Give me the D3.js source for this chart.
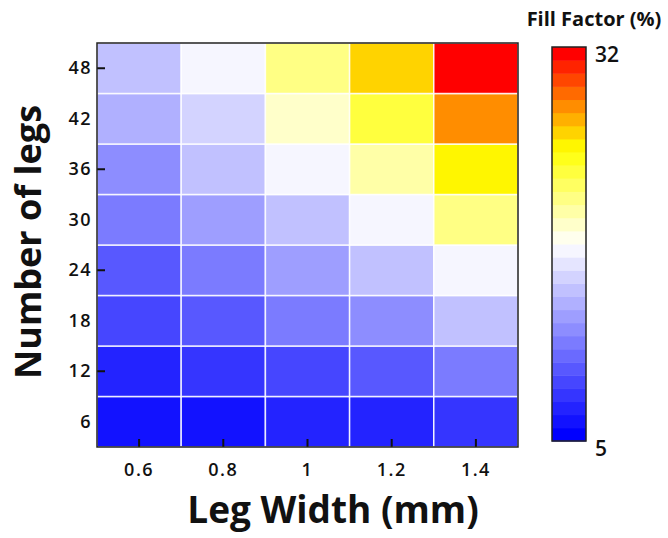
<!DOCTYPE html>
<html>
<head>
<meta charset="utf-8">
<script src="https://cdn.jsdelivr.net/npm/d3@7"></script>
<style>
  body { margin: 0; background: #fff; }
  svg text { font-family: "Open Sans", sans-serif; fill: #111; }
</style>
</head>
<body>
<svg id="chart" width="668" height="538"></svg>
<script>
// leg widths (mm) on x, number of legs on y
const legWidths = ["0.6", "0.8", "1", "1.2", "1.4"];
const legCounts = ["6", "12", "18", "24", "30", "36", "42", "48"];

// fill factor (%) per row, one value per leg width
const ff6  = [6.3, 6.3, 7.2, 7.2, 8.1];
const ff12 = [7.2, 8.1, 9.0, 9.9, 11.8];
const ff18 = [9.0, 9.9, 11.8, 12.6, 15.3];
const ff24 = [9.9, 11.8, 13.5, 15.3, 18.0];
const ff30 = [11.8, 13.5, 15.3, 18.0, 21.6];
const ff36 = [12.6, 15.3, 18.0, 20.7, 25.2];
const ff42 = [14.4, 16.2, 19.9, 23.4, 27.9];
const ff48 = [15.3, 18.0, 21.6, 26.1, 31.6];
const rows = [ff6, ff12, ff18, ff24, ff30, ff36, ff42, ff48];

const cbTicks = [5, 32];
const yTickMarks = ["12", "24", "36", "48"];

const cells = [];
rows.forEach((r, i) => r.forEach((v, j) => cells.push({n: legCounts[i], w: legWidths[j], v: v})));

const svg = d3.select("#chart");
const pL = 97, pR = 518, pT = 43, pB = 447;

const x = d3.scaleBand().domain(legWidths).range([pL, pR]);
const y = d3.scaleBand().domain(legCounts).range([pB, pT]);

// 30 step colormap: blue -> white (middle) -> yellow -> red
const interp = d3.scaleLinear()
    .domain([0, 0.5, 0.75, 1])
    .range(["#0000ff", "#ffffff", "#ffff00", "#ff0000"])
    .interpolate(d3.interpolateRgb);
const palette = d3.quantize(interp, 30);
const color = d3.scaleQuantize().domain([5, 32]).range(palette);

svg.selectAll("rect.cell")
    .data(cells)
    .enter().append("rect")
    .attr("class", "cell")
    .attr("x", d => x(d.w))
    .attr("y", d => y(d.n))
    .attr("width", x.bandwidth())
    .attr("height", y.bandwidth())
    .attr("fill", d => color(d.v))
    .attr("stroke", "#fff")
    .attr("stroke-opacity", 0.85)
    .attr("stroke-width", 1.5);

// tick labels (all rows / columns)
const yAxis = svg.append("g").attr("transform", `translate(${pL},0)`)
    .call(d3.axisLeft(y).tickSize(0).tickPadding(5));
const xAxis = svg.append("g").attr("transform", `translate(0,${pB})`)
    .call(d3.axisBottom(x).tickSize(0).tickPadding(16));
[yAxis, xAxis].forEach(g => {
    g.select(".domain").remove();
    g.selectAll("text").style("font-size", "18px").style("font-weight", 600)
        .style("letter-spacing", "1.5px").attr("fill", "#111");
});

// inward tick marks
svg.append("g").attr("transform", `translate(${pL},0)`)
    .call(d3.axisRight(y).tickValues(yTickMarks).tickSize(8).tickFormat(""))
    .call(g => g.select(".domain").remove())
    .selectAll("line").attr("stroke", "#111").attr("stroke-width", 2);
svg.append("g").attr("transform", `translate(0,${pB})`)
    .call(d3.axisTop(x).tickSize(8).tickFormat(""))
    .call(g => g.select(".domain").remove())
    .selectAll("line").attr("stroke", "#111").attr("stroke-width", 2);

svg.append("rect")
    .attr("x", pL).attr("y", pT)
    .attr("width", pR - pL).attr("height", pB - pT)
    .attr("fill", "none").attr("stroke", "#222").attr("stroke-width", 1.5);

// axis titles
svg.append("text")
    .attr("x", 333).attr("y", 523)
    .attr("text-anchor", "middle")
    .style("font-size", "37px").style("font-weight", 700)
    .text("Leg Width (mm)");
svg.append("text")
    .attr("transform", "translate(41,242) rotate(-90)")
    .attr("text-anchor", "middle")
    .style("font-size", "36px").style("font-weight", 700)
    .text("Number of legs");

// colour bar
const cbX = 552, cbW = 34, cbTop = 47, cbBottom = 441;
const cbY = d3.scaleLinear().domain([5, 32]).range([cbBottom, cbTop]);
svg.selectAll("rect.cb")
    .data(palette)
    .enter().append("rect")
    .attr("class", "cb")
    .attr("x", cbX)
    .attr("y", d => cbY(color.invertExtent(d)[1]))
    .attr("width", cbW)
    .attr("height", d => cbY(color.invertExtent(d)[0]) - cbY(color.invertExtent(d)[1]) + 0.5)
    .attr("fill", d => d);
svg.append("rect")
    .attr("x", cbX).attr("y", cbTop)
    .attr("width", cbW).attr("height", cbBottom - cbTop)
    .attr("fill", "none").attr("stroke", "#222").attr("stroke-width", 1.5);

svg.append("g").attr("transform", `translate(${cbX + cbW},0)`)
    .call(d3.axisRight(cbY).tickValues(cbTicks).tickSize(0).tickPadding(9))
    .call(g => g.select(".domain").remove())
    .selectAll("text")
    .attr("dy", "0.7em")
    .style("font-size", "21px").style("font-weight", 600).attr("fill", "#111");

svg.append("text")
    .attr("x", 594).attr("y", 26)
    .attr("text-anchor", "middle")
    .style("font-size", "20px").style("font-weight", 700)
    .text("Fill Factor (%)");
</script>
</body>
</html>
